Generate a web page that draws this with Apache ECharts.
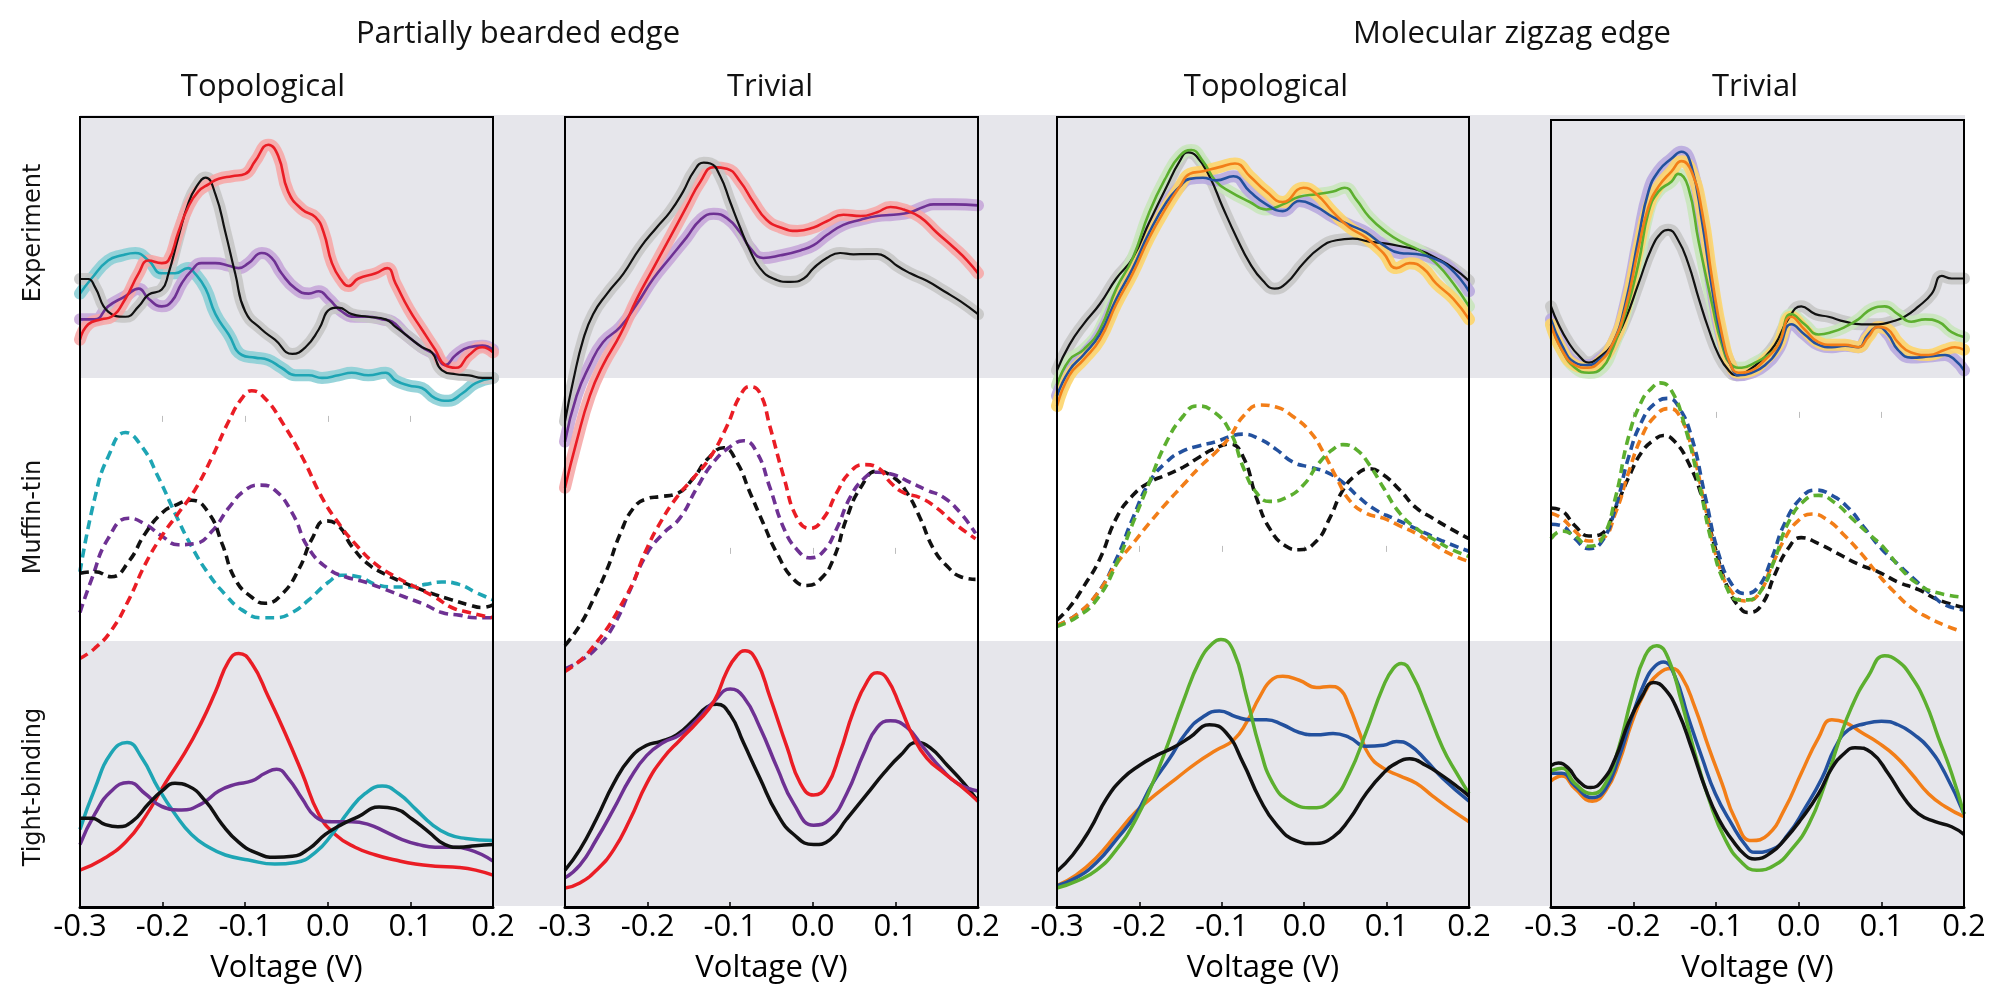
<!DOCTYPE html>
<html>
<head>
<meta charset="UTF-8">
<title>Edge spectra</title>
<script src="https://cdn.jsdelivr.net/npm/echarts@6/dist/echarts.min.js"></script>
<style>
  html, body { margin: 0; padding: 0; background: #fff; }
  #main { width: 1989px; height: 1003px; }
</style>
</head>
<body>
<div id="main"></div>
<script>
// voltage axis
var voltMin = -0.3, voltMax = 0.2, voltStep = 0.1;

// ---- Partially bearded edge, topological ----
var p1ExpBlack = [[-0.3,38],[-0.29,38],[-0.282,35],[-0.266,25.5],[-0.245,23.5],[-0.229,27.5],[-0.217,32],[-0.201,34],[-0.193,40],[-0.181,54],[-0.169,67],[-0.159,73.5],[-0.148,77],[-0.136,70.5],[-0.124,56],[-0.112,40],[-0.1,25.5],[-0.08,18.6],[-0.064,14.7],[-0.043,9.2],[-0.027,11.8],[-0.011,18.6],[0.003,26.5],[0.013,27],[0.029,24.5],[0.049,23.5],[0.07,22.5],[0.082,19.6],[0.098,15.7],[0.114,11.8],[0.126,9.8],[0.138,3],[0.155,1.4],[0.171,1],[0.187,0],[0.2,0]];
var p1ExpRed = [[-0.3,14.7],[-0.29,20.6],[-0.274,22.5],[-0.262,23.5],[-0.245,30.4],[-0.229,40.2],[-0.217,45.1],[-0.201,44.1],[-0.193,45.1],[-0.181,55.9],[-0.169,65.7],[-0.157,71.6],[-0.144,74.5],[-0.132,76.5],[-0.116,77.5],[-0.1,78.4],[-0.088,83.3],[-0.072,89.6],[-0.06,85.3],[-0.048,71.6],[-0.031,64.7],[-0.015,61.8],[-0.005,55.9],[0.005,44.1],[0.017,37.3],[0.025,35.3],[0.037,38.2],[0.058,40.2],[0.072,42.2],[0.082,36.3],[0.098,26.5],[0.114,18.6],[0.13,10.8],[0.142,4.9],[0.155,3.9],[0.171,8.8],[0.187,11.8],[0.2,9.8]];
var p1ExpPurple = [[-0.3,22.5],[-0.282,22.5],[-0.266,27.5],[-0.245,31.4],[-0.229,34.3],[-0.217,30.4],[-0.201,27.5],[-0.189,29.4],[-0.177,36.3],[-0.165,41.2],[-0.153,44.1],[-0.136,44.1],[-0.12,43.1],[-0.108,42.2],[-0.096,44.1],[-0.08,48],[-0.068,46.1],[-0.056,40.2],[-0.039,34.3],[-0.023,32.4],[-0.011,33.3],[0.001,30.4],[0.017,25.5],[0.033,23.5],[0.049,23.5],[0.066,22.5],[0.078,21.6],[0.094,16.7],[0.114,11.8],[0.13,8.8],[0.142,4.9],[0.155,8.8],[0.171,11.8],[0.187,12.4],[0.2,10.8]];
var p1ExpCyan = [[-0.3,32.4],[-0.286,38.2],[-0.266,45.1],[-0.249,47.1],[-0.233,48],[-0.217,45.1],[-0.201,40.2],[-0.185,40.2],[-0.169,42.2],[-0.161,40.2],[-0.148,34.3],[-0.136,24.5],[-0.12,16.7],[-0.104,8.8],[-0.088,7.8],[-0.072,6.9],[-0.056,3.9],[-0.039,1],[-0.023,1],[-0.007,0],[0.013,1],[0.029,2],[0.049,1],[0.07,2],[0.082,-1],[0.098,-2.9],[0.114,-3.9],[0.13,-7.8],[0.146,-8.8],[0.163,-5.9],[0.179,-2],[0.2,0]];
var p1MtCyan = [[-0.3,26.2],[-0.282,54.4],[-0.266,69.9],[-0.245,79.2],[-0.225,73.8],[-0.205,62.1],[-0.185,48.5],[-0.165,35.9],[-0.144,25.2],[-0.124,17.5],[-0.104,11.7],[-0.08,8.7],[-0.064,8.7],[-0.043,10.7],[-0.023,15.5],[0.001,22.3],[0.017,24.9],[0.037,24.3],[0.058,21.4],[0.082,20.4],[0.098,20.4],[0.118,21.4],[0.138,22.3],[0.159,21.4],[0.179,18.4],[0.2,15.5]];
var p1MtPurple = [[-0.3,10.7],[-0.286,23.3],[-0.266,38.8],[-0.241,46.6],[-0.221,44.3],[-0.201,39.8],[-0.181,36.5],[-0.161,36.9],[-0.14,41.7],[-0.12,50.5],[-0.1,57.3],[-0.082,59.2],[-0.064,57.3],[-0.043,48.5],[-0.023,35],[0.001,27.2],[0.021,24.3],[0.045,22.3],[0.07,19.4],[0.094,16.5],[0.118,13.6],[0.138,10.7],[0.159,9.7],[0.179,8.7],[0.2,8.7]];
var p1MtBlack = [[-0.3,25.6],[-0.282,26.2],[-0.262,24.3],[-0.241,30.1],[-0.221,40.8],[-0.201,48.5],[-0.185,51.5],[-0.165,53.4],[-0.144,48.5],[-0.128,36.9],[-0.112,23.3],[-0.092,16.5],[-0.076,14.2],[-0.056,17.5],[-0.035,27.2],[-0.019,38.8],[-0.003,45.6],[0.013,43.7],[0.029,35.9],[0.049,29.1],[0.07,25.2],[0.09,22.3],[0.11,19.8],[0.13,17.5],[0.15,15.5],[0.171,13.6],[0.187,12.6],[0.2,13.6]];
var p1MtRed = [[-0.3,-6.8],[-0.282,-2.9],[-0.262,3.9],[-0.241,15.5],[-0.221,29.1],[-0.201,39.8],[-0.181,48.5],[-0.161,57.3],[-0.14,69.9],[-0.12,83.5],[-0.104,92.2],[-0.092,95.1],[-0.076,92.2],[-0.056,83.5],[-0.031,69.9],[-0.007,54.4],[0.013,44.7],[0.033,36.9],[0.058,29.1],[0.082,24.3],[0.106,20.4],[0.13,16.5],[0.15,12.6],[0.171,10.7],[0.2,8.7]];
var p1TbRed = [[-0.3,13.8],[-0.274,17.6],[-0.245,24.3],[-0.221,33.9],[-0.197,46.4],[-0.173,57.9],[-0.153,69.3],[-0.136,80.8],[-0.12,92.3],[-0.108,95.2],[-0.092,91.4],[-0.072,78.9],[-0.052,65.5],[-0.031,50.2],[-0.011,34.9],[0.009,27.2],[0.033,22.4],[0.058,19.5],[0.082,17.6],[0.106,16.1],[0.13,15.3],[0.159,14.8],[0.179,13.8],[0.2,11.9]];
var p1TbCyan = [[-0.3,29.1],[-0.282,44.4],[-0.262,57.9],[-0.243,61.7],[-0.225,55.9],[-0.205,44.4],[-0.185,34.9],[-0.165,27.2],[-0.144,22.4],[-0.124,19.5],[-0.096,17.6],[-0.064,16.1],[-0.039,16.7],[-0.015,20.5],[0.005,27.2],[0.025,35.8],[0.045,42.5],[0.066,45.4],[0.086,42.5],[0.106,36.8],[0.126,31],[0.146,27.2],[0.167,25.7],[0.2,24.9]];
var p1TbPurple = [[-0.3,23.4],[-0.282,34.9],[-0.262,43.5],[-0.241,46.7],[-0.221,42.5],[-0.201,37.7],[-0.177,36.4],[-0.153,38.7],[-0.132,43.5],[-0.112,46],[-0.092,47.3],[-0.076,50.2],[-0.062,51.7],[-0.048,48.3],[-0.031,40.6],[-0.015,33.9],[0.005,32],[0.029,32],[0.049,31],[0.07,28.2],[0.09,25.3],[0.11,23.4],[0.13,22.4],[0.15,22.4],[0.171,21.5],[0.2,17.2]];
var p1TbBlack = [[-0.3,33.3],[-0.286,33.3],[-0.27,31],[-0.254,30.1],[-0.237,32],[-0.217,38.7],[-0.201,43.5],[-0.185,46.4],[-0.169,45.4],[-0.148,39.7],[-0.128,31],[-0.108,24.3],[-0.088,20.5],[-0.064,18.6],[-0.043,19],[-0.023,21.8],[-0.003,27.2],[0.017,31],[0.037,33.9],[0.062,37.5],[0.082,36.8],[0.102,33],[0.122,28.2],[0.142,23.4],[0.159,22.4],[0.179,23],[0.2,23.4]];

// ---- Partially bearded edge, trivial ----
var p2ExpBlack = [[-0.3,-16.7],[-0.29,-1],[-0.278,14.7],[-0.266,24.5],[-0.249,32.4],[-0.229,40.2],[-0.209,50],[-0.189,57.8],[-0.173,63.7],[-0.157,71.6],[-0.144,79.4],[-0.132,82.7],[-0.124,82.4],[-0.112,77.5],[-0.1,67.6],[-0.088,57.8],[-0.076,49],[-0.064,42.2],[-0.048,38.2],[-0.027,36.9],[-0.011,38.2],[0.001,42.2],[0.017,46.1],[0.033,48],[0.049,47.5],[0.066,47.6],[0.078,47.6],[0.09,46.1],[0.102,43.1],[0.118,40.2],[0.138,37.3],[0.159,33.3],[0.179,29.4],[0.2,24.5]];
var p2ExpRed = [[-0.3,-42.2],[-0.286,-24.5],[-0.27,-6.9],[-0.254,4.9],[-0.233,16.7],[-0.213,30.4],[-0.193,42.2],[-0.173,53.9],[-0.153,65.7],[-0.136,75.5],[-0.12,81],[-0.104,80.4],[-0.088,75.5],[-0.072,67.6],[-0.056,60.8],[-0.039,57.8],[-0.019,56.5],[0.001,57.8],[0.017,60.2],[0.037,62.7],[0.058,62.2],[0.078,63.7],[0.094,65.7],[0.11,64.7],[0.13,61.8],[0.15,55.9],[0.171,50],[0.187,45.1],[0.2,40.2]];
var p2ExpPurple = [[-0.3,-24.5],[-0.286,-6.9],[-0.27,4.9],[-0.254,13.7],[-0.233,19.6],[-0.213,28.4],[-0.193,38.2],[-0.173,46.1],[-0.153,53.9],[-0.136,60.8],[-0.12,63.1],[-0.104,61.4],[-0.088,55.9],[-0.076,50],[-0.06,46.1],[-0.039,47.1],[-0.015,49],[0.001,51],[0.017,54.9],[0.037,58.8],[0.058,60.8],[0.078,62.2],[0.098,62.7],[0.118,63.7],[0.134,65.7],[0.146,66.7],[0.171,66.7],[0.2,66.3]];
var p2MtBlack = [[-0.3,-1.9],[-0.282,5.8],[-0.266,15.5],[-0.249,27.2],[-0.233,40.8],[-0.217,50.5],[-0.201,54],[-0.185,54.8],[-0.165,55.9],[-0.144,62.1],[-0.128,68.9],[-0.108,73.4],[-0.092,68],[-0.076,56.3],[-0.06,44.7],[-0.043,33],[-0.023,23.3],[-0.007,21],[0.009,23.3],[0.025,31.1],[0.041,46.6],[0.058,58.3],[0.078,64.5],[0.098,62.1],[0.114,56.3],[0.13,46.6],[0.146,35],[0.163,28.2],[0.179,24.3],[0.197,23.3]];
var p2MtPurple = [[-0.3,-10.7],[-0.282,-7.8],[-0.262,-2.9],[-0.241,5.8],[-0.221,19.4],[-0.201,33],[-0.181,40.8],[-0.161,46.6],[-0.14,58.3],[-0.12,68],[-0.1,73.8],[-0.084,76.1],[-0.068,71.8],[-0.052,58.3],[-0.035,42.7],[-0.019,34.6],[-0.003,31.5],[0.013,34],[0.029,42.7],[0.045,54.4],[0.062,61.7],[0.078,64.1],[0.098,63.1],[0.118,60.2],[0.138,57.3],[0.159,54.4],[0.179,48.5],[0.197,40.8]];
var p2MtRed = [[-0.3,-11.7],[-0.27,-3.9],[-0.225,17.5],[-0.201,35],[-0.185,44.7],[-0.165,54.4],[-0.144,62.1],[-0.124,69.9],[-0.104,81.6],[-0.088,93.2],[-0.076,96.7],[-0.064,94.2],[-0.052,81.6],[-0.035,62.1],[-0.019,46.6],[-0.003,42.7],[0.013,46.6],[0.029,56.3],[0.045,64.1],[0.062,67],[0.078,66],[0.094,60.2],[0.11,56.3],[0.13,54.4],[0.15,50.5],[0.171,44.7],[0.197,38.8]];
var p2TbBlack = [[-0.3,13.8],[-0.282,21.5],[-0.262,33],[-0.241,46.4],[-0.221,55.9],[-0.201,60.7],[-0.185,62.1],[-0.165,64.6],[-0.144,70.3],[-0.128,75.1],[-0.116,76.1],[-0.1,72.2],[-0.084,61.7],[-0.064,48.3],[-0.043,34.9],[-0.023,27.2],[0.001,23.4],[0.021,25.3],[0.041,33],[0.066,42.5],[0.086,50.2],[0.106,56.9],[0.126,61.7],[0.142,59.8],[0.163,53.1],[0.183,46.4],[0.2,39.7]];
var p2TbPurple = [[-0.3,10.9],[-0.282,15.7],[-0.262,25.3],[-0.241,36.8],[-0.221,48.3],[-0.201,56.9],[-0.181,61.7],[-0.161,64.6],[-0.14,70.3],[-0.12,77],[-0.1,81.8],[-0.084,78.9],[-0.064,67.4],[-0.043,52.1],[-0.023,38.7],[0.001,30.7],[0.021,33],[0.041,42.5],[0.062,57.9],[0.078,67.4],[0.094,69.9],[0.114,67.4],[0.134,59.8],[0.155,52.1],[0.175,46.4],[0.2,43.5]];
var p2TbRed = [[-0.3,7.1],[-0.282,9],[-0.262,13.8],[-0.241,21.5],[-0.221,33],[-0.201,46.4],[-0.181,55.9],[-0.161,62.6],[-0.14,69.3],[-0.12,77],[-0.104,88.5],[-0.092,94.3],[-0.082,96.2],[-0.068,92.3],[-0.052,78.9],[-0.031,59.8],[-0.015,46.4],[0.001,42],[0.017,45.4],[0.033,57.9],[0.049,73.2],[0.066,84.7],[0.078,87.9],[0.09,85.6],[0.106,75.1],[0.122,63.6],[0.138,55.9],[0.159,50.2],[0.179,45.4],[0.2,39.7]];

// ---- Molecular zigzag edge, topological ----
var p3ExpBlack = [[-0.3,2.9],[-0.285,12.7],[-0.268,20.6],[-0.248,28.4],[-0.228,38.2],[-0.208,46.1],[-0.188,59.8],[-0.167,73.5],[-0.151,83.3],[-0.141,86.7],[-0.131,85.3],[-0.115,77.5],[-0.099,65.7],[-0.082,53.9],[-0.066,44.1],[-0.05,37.3],[-0.036,34.3],[-0.022,36.3],[-0.001,44.1],[0.019,50],[0.039,52.9],[0.059,53.5],[0.079,52.4],[0.1,51.6],[0.12,50.4],[0.14,49],[0.16,46.1],[0.181,42.2],[0.2,37.3]];
var p3ExpGreen = [[-0.3,-2.9],[-0.285,6.9],[-0.268,10.8],[-0.248,18.6],[-0.228,34.3],[-0.208,46.1],[-0.188,63.7],[-0.167,77.5],[-0.151,85.3],[-0.137,87.6],[-0.123,83.3],[-0.107,75.5],[-0.09,71.6],[-0.066,67.6],[-0.046,64.7],[-0.026,66.7],[-0.006,69.6],[0.015,70.6],[0.035,71.6],[0.049,73.1],[0.063,68.6],[0.079,61.8],[0.1,55.9],[0.12,52],[0.14,49],[0.16,44.1],[0.181,36.3],[0.2,27.5]];
var p3ExpBlue = [[-0.3,-6.9],[-0.285,2.9],[-0.268,8.8],[-0.248,16.7],[-0.228,30.4],[-0.208,42.2],[-0.188,55.9],[-0.167,67.6],[-0.151,73.5],[-0.139,76.5],[-0.123,76.9],[-0.107,75.9],[-0.086,77.5],[-0.066,71.6],[-0.046,66.7],[-0.026,64.1],[-0.006,68],[0.015,65.7],[0.035,61.8],[0.055,58.8],[0.075,55.9],[0.096,51],[0.116,48],[0.136,47.6],[0.156,46.1],[0.177,42.2],[0.2,33.3]];
var p3ExpOrange = [[-0.3,-10.8],[-0.285,1],[-0.268,6.9],[-0.248,14.7],[-0.228,28.4],[-0.208,40.2],[-0.188,53.9],[-0.167,65.7],[-0.151,73.5],[-0.139,78.4],[-0.123,79.4],[-0.103,81],[-0.084,82.4],[-0.066,77.5],[-0.046,71.6],[-0.026,67.6],[-0.001,73.1],[0.015,70.6],[0.035,63.7],[0.055,57.8],[0.075,53.9],[0.096,48],[0.112,42.2],[0.128,44.1],[0.144,42.2],[0.16,36.3],[0.181,30.4],[0.2,22.5]];
var p3MtBlack = [[-0.3,7.8],[-0.285,12.6],[-0.268,20.4],[-0.248,31.1],[-0.228,46.6],[-0.208,55.3],[-0.188,60.2],[-0.167,63.1],[-0.147,66],[-0.127,69.9],[-0.111,72.8],[-0.09,74.8],[-0.074,69.9],[-0.058,54.4],[-0.042,42.7],[-0.022,35.9],[-0.006,34.6],[0.015,37.9],[0.031,46.6],[0.047,57.3],[0.063,63.1],[0.079,65.4],[0.096,63.1],[0.116,57.3],[0.136,50.5],[0.156,46.6],[0.177,42.7],[0.2,38.8]];
var p3MtBlue = [[-0.3,5.8],[-0.277,9.7],[-0.252,17.5],[-0.228,31.1],[-0.208,46.6],[-0.188,60.2],[-0.167,68],[-0.147,72.2],[-0.127,74.2],[-0.107,75.7],[-0.09,77.7],[-0.074,78.6],[-0.054,76.7],[-0.034,72.8],[-0.014,68],[0.007,66],[0.027,64.1],[0.047,60.2],[0.067,54.4],[0.088,49.5],[0.108,46.6],[0.128,43.7],[0.148,40.8],[0.168,37.9],[0.2,34]];
var p3MtGreen = [[-0.3,5.4],[-0.277,8.7],[-0.252,15.5],[-0.228,29.1],[-0.208,44.7],[-0.188,60.2],[-0.167,75.7],[-0.147,85.4],[-0.131,89.3],[-0.111,87.4],[-0.09,79.6],[-0.074,66],[-0.058,56.3],[-0.042,53],[-0.022,54.4],[-0.001,59.2],[0.019,68],[0.039,73.8],[0.047,74.6],[0.063,72.8],[0.079,67],[0.096,58.3],[0.116,48.5],[0.136,42.7],[0.156,38.8],[0.177,35],[0.2,32]];
var p3MtOrange = [[-0.3,5.8],[-0.277,9.7],[-0.252,17.5],[-0.228,29.1],[-0.208,36.9],[-0.188,44.7],[-0.167,52.4],[-0.147,59.2],[-0.127,66],[-0.107,71.8],[-0.09,77.7],[-0.074,85.4],[-0.054,89.7],[-0.034,88.9],[-0.014,85.4],[0.007,79.6],[0.023,71.8],[0.039,62.1],[0.055,53.4],[0.075,48.5],[0.096,46.6],[0.116,43.7],[0.136,40.8],[0.156,36.9],[0.177,33],[0.2,30.1]];
var p3TbBlack = [[-0.3,13.4],[-0.281,19.5],[-0.26,29.1],[-0.24,40.6],[-0.22,48.3],[-0.2,53.1],[-0.179,56.9],[-0.159,59.8],[-0.139,63.6],[-0.115,68.4],[-0.095,65.5],[-0.074,54],[-0.054,40.6],[-0.034,31],[-0.01,24.9],[0.011,23.8],[0.035,26.2],[0.055,33],[0.075,42.5],[0.096,50.2],[0.112,54],[0.128,55.6],[0.148,53.1],[0.168,49.2],[0.189,44.4],[0.2,41.6]];
var p3TbBlue = [[-0.3,8],[-0.277,10.9],[-0.252,16.7],[-0.228,25.3],[-0.204,34.9],[-0.184,46.4],[-0.163,55.9],[-0.143,65.5],[-0.123,71.3],[-0.103,73.6],[-0.082,71.3],[-0.066,70.3],[-0.046,70.3],[-0.026,68.4],[-0.006,65.5],[0.015,64.6],[0.035,65.1],[0.055,63.6],[0.075,60.3],[0.096,60.7],[0.112,62.1],[0.128,60.7],[0.148,55],[0.168,48.3],[0.2,39.7]];
var p3TbGreen = [[-0.3,7.1],[-0.277,9.6],[-0.252,13.8],[-0.228,21.5],[-0.204,33],[-0.184,46.4],[-0.167,59.8],[-0.147,77],[-0.127,92.3],[-0.111,99],[-0.101,100.4],[-0.086,96.2],[-0.07,78.9],[-0.054,59.8],[-0.038,46.4],[-0.018,39.7],[0.011,37.2],[0.035,40.6],[0.055,50.2],[0.075,65.5],[0.096,82.8],[0.108,89.5],[0.118,91.4],[0.132,86.6],[0.148,75.1],[0.168,59.8],[0.185,50.2],[0.2,42.5]];
var p3TbOrange = [[-0.3,8],[-0.277,11.9],[-0.252,18.6],[-0.228,27.2],[-0.204,35.8],[-0.179,42.5],[-0.155,48.3],[-0.131,54],[-0.107,58.8],[-0.086,62.6],[-0.07,69.3],[-0.054,78.9],[-0.038,85.6],[-0.026,86.6],[-0.006,85.1],[0.015,82.4],[0.031,82.8],[0.043,81.8],[0.055,75.1],[0.067,65.5],[0.079,56.9],[0.096,52.1],[0.116,49.2],[0.136,46.4],[0.156,41.6],[0.177,36.8],[0.2,32]];

// ---- Molecular zigzag edge, trivial ----
var p4ExpBlack = [[-0.3,27.5],[-0.291,20.6],[-0.279,13.7],[-0.267,8.8],[-0.254,5.9],[-0.242,7.8],[-0.226,12.7],[-0.21,22.5],[-0.194,36.3],[-0.178,50],[-0.166,55.9],[-0.158,56.9],[-0.146,52.9],[-0.134,44.1],[-0.121,30.4],[-0.109,18.6],[-0.097,8.8],[-0.085,2.9],[-0.075,1],[-0.061,2.9],[-0.045,6.9],[-0.029,12.7],[-0.013,22.5],[0.003,27.5],[0.02,24.5],[0.036,23.5],[0.056,21.6],[0.076,20.6],[0.096,20.6],[0.112,21.6],[0.128,23.5],[0.145,27.5],[0.161,32.4],[0.173,39.2],[0.185,38.2],[0.2,38.2]];
var p4ExpBlue = [[-0.3,22.5],[-0.287,12.7],[-0.271,5.9],[-0.256,4.9],[-0.242,6.9],[-0.226,12.7],[-0.21,28.4],[-0.194,53.9],[-0.182,71.6],[-0.17,79.4],[-0.154,84.3],[-0.142,86.9],[-0.13,81.4],[-0.117,59.8],[-0.105,34.3],[-0.093,14.7],[-0.081,3.9],[-0.073,1],[-0.057,2],[-0.041,4.9],[-0.025,10.8],[-0.009,20.6],[0.007,16.7],[0.024,12.7],[0.04,11.8],[0.056,12.4],[0.072,11.8],[0.084,16.7],[0.096,19.6],[0.108,16.7],[0.12,10.8],[0.136,7.8],[0.157,8.2],[0.177,8.8],[0.189,6.9],[0.2,2.9]];
var p4ExpOrange = [[-0.3,20.6],[-0.287,10.8],[-0.271,4.9],[-0.256,3.9],[-0.242,5.9],[-0.226,12.7],[-0.21,26.5],[-0.194,50],[-0.182,65.7],[-0.17,73.5],[-0.154,79.4],[-0.142,83.3],[-0.13,79.4],[-0.117,63.7],[-0.105,38.2],[-0.093,16.7],[-0.081,3.9],[-0.073,2],[-0.057,2.9],[-0.041,6.9],[-0.025,12.7],[-0.009,23.5],[0.007,18.6],[0.024,13.7],[0.04,12.7],[0.056,12.7],[0.072,11.8],[0.084,15.7],[0.096,19.6],[0.108,18.6],[0.12,13.7],[0.136,9.8],[0.157,8.8],[0.177,10.8],[0.189,11.8],[0.2,10.8]];
var p4ExpGreen = [[-0.3,20.6],[-0.287,10.8],[-0.271,3.9],[-0.254,2],[-0.238,3.9],[-0.226,10.8],[-0.21,24.5],[-0.194,44.1],[-0.182,63.7],[-0.17,71.6],[-0.154,75.5],[-0.146,78.4],[-0.134,73.5],[-0.121,52],[-0.105,28.4],[-0.093,12.7],[-0.081,4.9],[-0.069,3.9],[-0.053,5.9],[-0.037,8.8],[-0.025,12.7],[-0.009,24.5],[0.007,20.6],[0.024,16.7],[0.04,17.6],[0.056,19.6],[0.072,22.5],[0.088,26.5],[0.104,27.5],[0.12,24.5],[0.136,21.6],[0.153,22.5],[0.169,21.6],[0.185,17.6],[0.2,15.7]];
var p4MtBlack = [[-0.3,50.5],[-0.287,49.5],[-0.271,43.7],[-0.254,39.8],[-0.238,40.8],[-0.222,50.5],[-0.206,62.1],[-0.19,71.8],[-0.174,76.7],[-0.164,78.1],[-0.15,75.7],[-0.134,68],[-0.117,54.4],[-0.101,35],[-0.085,19.4],[-0.069,11.7],[-0.061,10.7],[-0.045,13.6],[-0.029,25.2],[-0.013,35],[0.003,39.2],[0.024,36.9],[0.048,33],[0.072,29.1],[0.096,26.2],[0.12,22.3],[0.145,19.4],[0.169,15.5],[0.2,12.6]];
var p4MtBlue = [[-0.3,44.3],[-0.287,43.7],[-0.271,38.8],[-0.254,35],[-0.238,37.9],[-0.222,50.5],[-0.206,69.9],[-0.19,83.5],[-0.174,90.3],[-0.158,92.2],[-0.146,89.3],[-0.13,77.7],[-0.113,54.4],[-0.097,33],[-0.081,21.4],[-0.065,17.9],[-0.049,20.4],[-0.033,31.1],[-0.017,44.7],[0.003,54.4],[0.02,57.3],[0.04,55.3],[0.06,50.5],[0.08,42.7],[0.1,35],[0.12,29.1],[0.14,23.3],[0.161,17.5],[0.177,13.6],[0.2,11.7]];
var p4MtGreen = [[-0.3,38.8],[-0.287,41.7],[-0.271,39.8],[-0.254,35.9],[-0.238,38.8],[-0.222,54.4],[-0.206,77.7],[-0.19,91.3],[-0.178,96.1],[-0.168,98.1],[-0.154,95.1],[-0.138,81.6],[-0.121,60.2],[-0.105,36.9],[-0.089,21.4],[-0.073,15.5],[-0.061,15.5],[-0.045,19.4],[-0.029,31.1],[-0.013,44.7],[0.007,53.4],[0.024,55.3],[0.044,52.4],[0.064,46.6],[0.084,40.8],[0.104,35],[0.124,27.2],[0.145,21.4],[0.165,18.4],[0.2,16.5]];
var p4MtOrange = [[-0.3,48.5],[-0.287,46.6],[-0.271,41.7],[-0.254,37.9],[-0.238,38.8],[-0.222,48.5],[-0.206,64.1],[-0.19,77.7],[-0.174,85.4],[-0.158,88.3],[-0.146,86.4],[-0.13,73.8],[-0.113,50.5],[-0.097,29.1],[-0.081,18.4],[-0.065,15.1],[-0.049,17.5],[-0.033,28.2],[-0.017,38.8],[-0.001,45.6],[0.016,48.2],[0.036,45.6],[0.056,39.8],[0.076,33],[0.096,25.2],[0.116,18.4],[0.136,12.6],[0.157,8.7],[0.177,5.8],[0.193,3.9]];
var p4TbBlack = [[-0.3,53.1],[-0.291,54],[-0.279,52.1],[-0.267,47.3],[-0.252,44.8],[-0.238,47.3],[-0.222,55.9],[-0.206,69.3],[-0.19,78.9],[-0.176,84.3],[-0.162,81.8],[-0.146,73.2],[-0.13,59.8],[-0.113,44.4],[-0.097,33],[-0.081,25.3],[-0.065,19.5],[-0.053,18],[-0.033,20.5],[-0.017,25.3],[0.003,33],[0.024,42.5],[0.04,52.1],[0.056,57.9],[0.068,59.8],[0.088,57.9],[0.108,50.2],[0.128,40.6],[0.145,34.9],[0.165,32],[0.185,30.1],[0.2,27.2]];
var p4TbBlue = [[-0.3,50.2],[-0.287,50.2],[-0.271,45.4],[-0.25,41],[-0.234,44.4],[-0.218,55.9],[-0.202,71.3],[-0.186,84.7],[-0.174,90.4],[-0.164,92],[-0.15,86.6],[-0.134,71.3],[-0.117,55.9],[-0.101,42.5],[-0.081,31],[-0.065,23.4],[-0.053,20.5],[-0.033,21.5],[-0.013,27.2],[0.007,36.8],[0.028,48.3],[0.044,59.8],[0.06,66.5],[0.08,68.8],[0.1,69.7],[0.12,68.4],[0.14,64.6],[0.157,59.8],[0.177,50.2],[0.2,34.9]];
var p4TbGreen = [[-0.3,51.1],[-0.287,52.1],[-0.271,46.4],[-0.25,42.5],[-0.234,46.4],[-0.218,59.8],[-0.202,78.9],[-0.186,94.3],[-0.172,98.1],[-0.158,93.3],[-0.142,77],[-0.126,57.9],[-0.109,40.6],[-0.089,25.3],[-0.069,16.7],[-0.051,13.8],[-0.029,15.7],[-0.009,21.5],[0.012,31],[0.032,46.4],[0.048,61.7],[0.064,75.1],[0.084,86.6],[0.104,94.3],[0.12,92.3],[0.136,86.6],[0.153,77],[0.169,63.6],[0.185,50.2],[0.2,34.9]];
var p4TbOrange = [[-0.3,47.3],[-0.287,49.2],[-0.271,44.4],[-0.25,39.7],[-0.234,43.5],[-0.218,54],[-0.202,69.3],[-0.186,80.8],[-0.17,87.5],[-0.154,89.5],[-0.142,86.6],[-0.126,75.1],[-0.109,59.8],[-0.093,46.4],[-0.077,33],[-0.057,24.9],[-0.037,27.2],[-0.017,36.8],[0.003,50.2],[0.024,63.6],[0.04,70.3],[0.056,69.3],[0.076,65.5],[0.096,61.7],[0.116,56.9],[0.136,50.2],[0.157,42.5],[0.177,37.7],[0.2,33.9]];

var groupTitles = ['Partially bearded edge', 'Molecular zigzag edge'];
var panelTitles = ['Topological', 'Trivial', 'Topological', 'Trivial'];
var rowTitles = ['Experiment', 'Muffin-tin', 'Tight-binding'];

var lineColor = {black: '#111111', red: '#ea1d25', purple: '#6e3193', cyan: '#1ea5b4', green: '#5caf2f', blue: '#23519e', orange: '#f27e18'};
var dotColor = {black: '#c7c7c7', red: '#f6a8a9', purple: '#c7a7d9', cyan: '#8ccfd6', green: '#c9e6bc', blue: '#b9aadf', orange: '#fdd56b'};

var FONT = 'Open Sans';

// layout (px)
var panels = [
  {left: 80, width: 413, top: 117, tickOff: -38,
   exp: [[p1ExpCyan, 'cyan'], [p1ExpPurple, 'purple'], [p1ExpBlack, 'black'], [p1ExpRed, 'red']],
   mt: [[p1MtCyan, 'cyan'], [p1MtPurple, 'purple'], [p1MtBlack, 'black'], [p1MtRed, 'red']],
   tb: [[p1TbRed, 'red'], [p1TbCyan, 'cyan'], [p1TbPurple, 'purple'], [p1TbBlack, 'black']]},
  {left: 565, width: 413, top: 117, tickOff: -170,
   exp: [[p2ExpPurple, 'purple'], [p2ExpRed, 'red'], [p2ExpBlack, 'black']],
   mt: [[p2MtBlack, 'black'], [p2MtPurple, 'purple'], [p2MtRed, 'red']],
   tb: [[p2TbBlack, 'black'], [p2TbPurple, 'purple'], [p2TbRed, 'red']]},
  {left: 1057, width: 412, top: 117, tickOff: -168,
   exp: [[p3ExpBlack, 'black'], [p3ExpGreen, 'green'], [p3ExpBlue, 'blue'], [p3ExpOrange, 'orange']],
   mt: [[p3MtBlack, 'black'], [p3MtBlue, 'blue'], [p3MtOrange, 'orange'], [p3MtGreen, 'green']],
   tb: [[p3TbOrange, 'orange'], [p3TbBlue, 'blue'], [p3TbGreen, 'green'], [p3TbBlack, 'black']]},
  {left: 1551, width: 413, top: 120, tickOff: -34,
   exp: [[p4ExpBlack, 'black'], [p4ExpGreen, 'green'], [p4ExpBlue, 'blue'], [p4ExpOrange, 'orange']],
   mt: [[p4MtBlack, 'black'], [p4MtOrange, 'orange'], [p4MtBlue, 'blue'], [p4MtGreen, 'green']],
   tb: [[p4TbOrange, 'orange'], [p4TbBlue, 'blue'], [p4TbGreen, 'green'], [p4TbBlack, 'black']]}
];
var rows = [{top: 117.7, height: 260.2}, {top: 377.9, height: 262.7}, {top: 640.6, height: 266.3}];
var titleX = [263, 770, 1266, 1755];

var grids = [], xAxes = [], yAxes = [], series = [];

panels.forEach(function (p, pi) {
  rows.forEach(function (r, ri) {
    var gi = pi * 3 + ri;
    grids.push({left: p.left, width: p.width, top: r.top, height: r.height, containLabel: false, outerBoundsMode: 'none'});
    var xa = {gridIndex: gi, type: 'value', min: voltMin, max: voltMax, interval: voltStep, splitLine: {show: false}};
    if (ri === 0) {
      xa.show = false;
    } else if (ri === 1) {
      // faint leftover tick marks inside the muffin-tin row
      xa.position = 'top';
      xa.offset = p.tickOff;
      xa.axisLine = {show: false, onZero: false};
      xa.axisTick = {show: true, inside: true, length: 6, lineStyle: {color: '#bdbdbd', width: 1}};
      xa.axisLabel = {show: false};
    } else {
      xa.position = 'bottom';
      xa.axisLine = {show: true, onZero: false, lineStyle: {color: '#000', width: 3}};
      xa.axisTick = {show: true, inside: true, length: 5, lineStyle: {color: '#000', width: 1.5}};
      xa.axisLabel = {show: true, margin: 5, color: '#000', fontSize: 31, fontFamily: FONT,
        formatter: function (v) { var s = Number(v).toFixed(1); return s === '-0.0' ? '0.0' : s; }};
      xa.name = 'Voltage (V)';
      xa.nameLocation = 'middle';
      xa.nameGap = 46;
      xa.nameTextStyle = {color: '#000', fontSize: 31, fontFamily: FONT};
    }
    xAxes.push(xa);
    yAxes.push({gridIndex: gi, type: 'value', min: 0, max: 100, show: false});

    var list = [p.exp, p.mt, p.tb][ri];
    if (ri === 0) {
      list.forEach(function (c) {
        series.push({type: 'line', xAxisIndex: gi, yAxisIndex: gi, data: c[0], smooth: 0.5,
          showSymbol: false, clip: false, silent: true, z: 1,
          lineStyle: {color: dotColor[c[1]], width: 12, opacity: 0.9, cap: 'round', join: 'round'}});
      });
    }
    list.forEach(function (c) {
      var ls = {color: lineColor[c[1]], width: 3.5};
      if (ri === 0) ls.width = c[1] === 'black' ? 2.2 : 2.6;
      if (ri === 1) { ls.width = 3.6; ls.type = [9, 5.5]; }
      series.push({type: 'line', xAxisIndex: gi, yAxisIndex: gi, data: c[0], smooth: 0.5,
        showSymbol: false, clip: false, silent: true, z: 3, lineStyle: ls});
    });
  });
});

var graphics = [
  {type: 'rect', z: -5, shape: {x: 80, y: 115, width: 1885, height: 263}, style: {fill: '#e6e6eb'}},
  {type: 'rect', z: -5, shape: {x: 80, y: 641, width: 1885, height: 265}, style: {fill: '#e6e6eb'}}
];
panels.forEach(function (p, pi) {
  graphics.push({type: 'rect', z: 50, shape: {x: p.left, y: p.top, width: p.width, height: 907 - p.top},
    style: {fill: 'none', stroke: '#000', lineWidth: 2}});
  graphics.push({type: 'text', z: 50, x: titleX[pi], y: 87,
    style: {text: panelTitles[pi], fill: '#111', fontSize: 31, fontFamily: FONT, align: 'center', verticalAlign: 'middle'}});
});
[518, 1512].forEach(function (cx, i) {
  graphics.push({type: 'text', z: 50, x: cx, y: 34.5,
    style: {text: groupTitles[i], fill: '#111', fontSize: 31, fontFamily: FONT, align: 'center', verticalAlign: 'middle'}});
});
[233, 517, 787].forEach(function (cy, i) {
  graphics.push({type: 'text', z: 50, x: 34, y: cy, rotation: Math.PI / 2,
    style: {text: rowTitles[i], fill: '#111', fontSize: 24, fontFamily: 'DejaVu Sans', align: 'center', verticalAlign: 'middle'}});
});

var chart = echarts.init(document.getElementById('main'), null, {renderer: 'canvas'});
chart.setOption({
  animation: false,
  backgroundColor: '#ffffff',
  grid: grids,
  xAxis: xAxes,
  yAxis: yAxes,
  series: series,
  graphic: {elements: graphics}
});
</script>
</body>
</html>
